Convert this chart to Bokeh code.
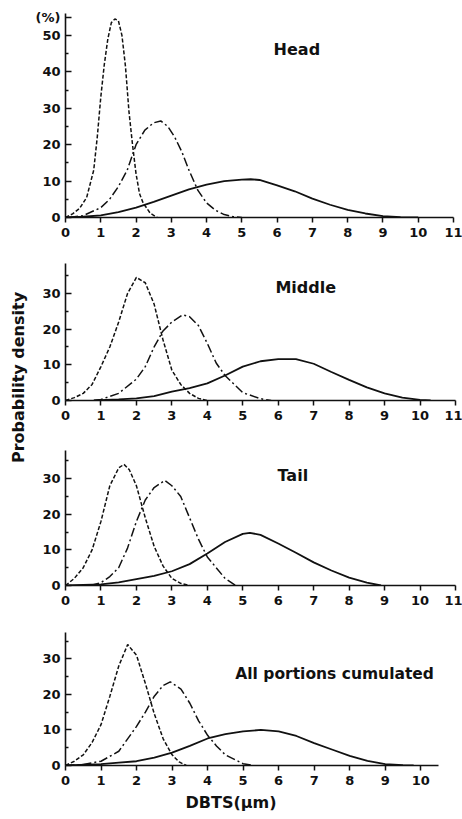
import math
from bokeh.plotting import figure
from bokeh.models import Range1d, FixedTicker, Label, Title
from bokeh.layouts import row, column
from bokeh.embed import file_html
from bokeh.resources import INLINE

# ---------------- data ----------------
panel_titles = ["Head", "Middle", "Tail", "All portions cumulated"]
x_tick_values = list(range(0, 12))
y_label_text = "Probability density"
x_label_text = "DBTS(\u03bcm)"

# Head
head_dash_x = [0, 0.2, 0.4, 0.6, 0.8, 0.9, 1.0, 1.1, 1.2, 1.3, 1.4, 1.5, 1.6, 1.7, 1.8, 1.9, 2.0, 2.1, 2.2, 2.4, 2.6]
head_dash_y = [0, 1, 2.5, 5.5, 13, 22, 33, 42, 49, 53.5, 54.5, 54, 50, 41.5, 29, 20, 12, 6.5, 4, 1.2, 0]
head_dd_x = [0.1, 0.5, 1.0, 1.25, 1.5, 1.75, 2.0, 2.25, 2.5, 2.7, 2.9, 3.1, 3.3, 3.5, 3.75, 4.0, 4.25, 4.5, 4.75, 5.0]
head_dd_y = [0, 0.5, 2.7, 5, 8.5, 13, 20, 24, 26, 26.5, 25, 22, 18, 13, 7.5, 4, 2, 0.8, 0.2, 0]
head_solid_x = [0, 0.5, 1, 1.5, 2, 2.5, 3, 3.5, 4, 4.5, 5, 5.25, 5.5, 6, 6.5, 7, 7.5, 8, 8.5, 9, 9.5, 10]
head_solid_y = [0, 0.2, 0.6, 1.5, 2.7, 4.3, 6, 7.7, 9, 10, 10.4, 10.5, 10.3, 8.8, 7.2, 5.2, 3.5, 2.1, 1.1, 0.4, 0.1, 0]

# Middle
mid_dash_x = [0, 0.25, 0.5, 0.75, 1.0, 1.25, 1.5, 1.75, 2.0, 2.25, 2.5, 2.75, 3.0, 3.25, 3.5, 3.75, 4.0]
mid_dash_y = [0, 0.8, 2, 4.5, 9.5, 15, 22, 30, 34.5, 33, 27, 17, 8.5, 4.5, 2, 0.6, 0]
mid_dd_x = [0.8, 1.0, 1.5, 2.0, 2.25, 2.5, 2.75, 3.0, 3.3, 3.5, 3.75, 4.0, 4.25, 4.5, 5.0, 5.5, 5.8]
mid_dd_y = [0, 0.3, 2, 6, 9.5, 15, 19.5, 22, 24, 23.5, 21, 16, 10.5, 7, 2.2, 0.5, 0]
mid_solid_x = [0.8, 1.5, 2, 2.5, 3, 3.5, 4, 4.5, 5, 5.5, 6, 6.5, 7, 7.5, 8, 8.5, 9, 9.5, 10, 10.3]
mid_solid_y = [0, 0.3, 0.6, 1.2, 2.5, 3.5, 4.8, 7, 9.5, 11, 11.6, 11.6, 10.3, 8, 5.8, 3.7, 2, 0.8, 0.2, 0]

# Tail
tail_dash_x = [0, 0.25, 0.5, 0.75, 1.0, 1.25, 1.5, 1.65, 1.8, 2.0, 2.25, 2.5, 2.75, 3.0, 3.25, 3.5]
tail_dash_y = [0, 2, 5, 10, 18, 28, 33, 34, 32.5, 28, 19, 11, 5.5, 2, 0.6, 0]
tail_dd_x = [0.7, 1.0, 1.25, 1.5, 1.75, 2.0, 2.25, 2.5, 2.8, 3.0, 3.25, 3.5, 3.75, 4.0, 4.25, 4.5, 4.8]
tail_dd_y = [0, 0.8, 2.5, 5, 10.5, 18, 24, 27.5, 29.5, 28, 25, 19, 13, 8, 5, 2, 0]
tail_solid_x = [0, 1, 1.5, 2, 2.5, 3, 3.5, 4, 4.5, 5, 5.2, 5.5, 6, 6.5, 7, 7.5, 8, 8.5, 8.9]
tail_solid_y = [0, 0.3, 0.9, 1.8, 2.7, 4, 6, 9, 12.2, 14.5, 14.8, 14.2, 11.8, 9.2, 6.5, 4.2, 2.2, 0.8, 0]

# All portions cumulated
all_dash_x = [0, 0.25, 0.5, 0.75, 1.0, 1.25, 1.5, 1.75, 2.0, 2.25, 2.5, 2.75, 3.0, 3.2, 3.4]
all_dash_y = [0, 1.2, 3, 6.5, 11.5, 19.5, 28, 34, 31, 23, 14.5, 7.5, 3, 1, 0]
all_dd_x = [0, 0.5, 1, 1.5, 2, 2.25, 2.5, 2.75, 2.95, 3.25, 3.5, 3.75, 4, 4.25, 4.5, 5, 5.3]
all_dd_y = [0, 0.3, 1.2, 4, 11, 15, 19.5, 22.5, 23.5, 21.5, 17.5, 12.5, 8.5, 5.5, 3, 0.5, 0]
all_solid_x = [0, 1, 1.5, 2, 2.5, 3, 3.5, 4, 4.5, 5, 5.5, 6, 6.5, 7, 7.5, 8, 8.5, 9, 9.5, 9.8]
all_solid_y = [0, 0.4, 0.8, 1.2, 2.2, 3.6, 5.5, 7.6, 8.8, 9.6, 10, 9.6, 8.3, 6.3, 4.5, 2.7, 1.3, 0.4, 0.1, 0]

# ---------------- styling ----------------
FONT = "DejaVu Sans"
INK = "#111111"
LABEL_W = 30


def make_panel(title, series, xmax, ymax, yticks, ymin_ticks, fw, fh,
               bl, br, bt, bb, title_xy, title_size="16px", overrides=None):
    p = figure(frame_width=fw, frame_height=fh, x_range=Range1d(0, xmax), y_range=Range1d(0, ymax),
               output_backend="svg", toolbar_location=None,
               min_border_left=bl, min_border_right=br, min_border_top=bt, min_border_bottom=bb)
    p.outline_line_color = None
    p.xgrid.visible = False
    p.ygrid.visible = False
    p.background_fill_color = "white"

    (dx, dy), (ddx, ddy), (sx, sy) = series
    p.line(sx, sy, line_color=INK, line_width=1.8)
    p.line(ddx, ddy, line_color=INK, line_width=1.5, line_dash="9 3 2 3")
    p.line(dx, dy, line_color=INK, line_width=1.5, line_dash="4 2")

    xt = [v for v in x_tick_values if v <= xmax]
    p.xaxis.ticker = FixedTicker(ticks=xt, minor_ticks=[])
    p.yaxis.ticker = FixedTicker(ticks=yticks, minor_ticks=ymin_ticks)
    if overrides:
        p.yaxis.major_label_overrides = overrides
    for ax in (p.xaxis, p.yaxis):
        ax.axis_line_color = INK
        ax.axis_line_width = 1.6
        ax.major_tick_line_color = INK
        ax.major_tick_line_width = 1.5
        ax.minor_tick_line_color = INK
        ax.minor_tick_line_width = 1.3
        ax.major_label_text_font = FONT
        ax.major_label_text_font_style = "bold"
        ax.major_label_text_font_size = "13px"
        ax.major_label_text_color = INK
    p.xaxis.major_tick_out = 5
    p.xaxis.major_tick_in = 0
    p.xaxis.major_label_standoff = 5
    p.yaxis.major_tick_in = 6
    p.yaxis.major_tick_out = 0
    p.yaxis.minor_tick_in = 3
    p.yaxis.minor_tick_out = 0
    p.yaxis.major_label_standoff = 5

    p.add_layout(Label(x=title_xy[0], y=title_xy[1], text=title, text_font=FONT,
                       text_font_style="bold", text_font_size=title_size, text_color=INK,
                       text_align="left", text_baseline="middle"))
    return p


p1 = make_panel(panel_titles[0],
                ((head_dash_x, head_dash_y), (head_dd_x, head_dd_y), (head_solid_x, head_solid_y)),
                11, 56, [0, 10, 20, 30, 40, 50, 55], [5, 15, 25, 35, 45],
                388, 204, 35, 9, 13, 28, (5.9, 46.2), overrides={55: "(%)"})
p2 = make_panel(panel_titles[1],
                ((mid_dash_x, mid_dash_y), (mid_dd_x, mid_dd_y), (mid_solid_x, mid_solid_y)),
                11, 38.4, [0, 10, 20, 30], [5, 15, 25, 35],
                390, 137, 33, 9, 18, 32, (5.92, 31.8))
p3 = make_panel(panel_titles[2],
                ((tail_dash_x, tail_dash_y), (tail_dd_x, tail_dd_y), (tail_solid_x, tail_solid_y)),
                11, 37.9, [0, 10, 20, 30], [5, 15, 25, 35],
                390, 135, 33, 9, 18, 32, (5.98, 30.8))
p4 = make_panel(panel_titles[3],
                ((all_dash_x, all_dash_y), (all_dd_x, all_dd_y), (all_solid_x, all_solid_y)),
                10.5, 37.4, [0, 10, 20, 30], [5, 15, 25, 35],
                373, 133, 32, 27, 15, 53, (4.78, 25.6), title_size="15.5px")
# x axis title under the lower panel, left of centre as in the original
p4.add_layout(Title(text=x_label_text, align="left", offset=120, standoff=7,
                    text_font=FONT, text_font_style="bold", text_font_size="16px",
                    text_color=INK), "below")

TOTAL_H = (13 + 204 + 28) + (18 + 137 + 32) + (18 + 135 + 32) + (15 + 133 + 53)
lab = figure(width=LABEL_W, height=TOTAL_H, x_range=Range1d(0, LABEL_W), y_range=Range1d(0, TOTAL_H),
             x_axis_type=None, y_axis_type=None, output_backend="svg", toolbar_location=None,
             min_border=0)
lab.outline_line_color = None
lab.xgrid.visible = False
lab.ygrid.visible = False
lab.add_layout(Label(x=18, y=TOTAL_H - 377, text=y_label_text, angle=math.pi / 2,
                     text_font=FONT, text_font_style="bold", text_font_size="16px",
                     text_color=INK, text_align="center", text_baseline="middle"))

layout = row(lab, column(p1, p2, p3, p4))

open("out.html", "w").write(file_html(layout, INLINE))
